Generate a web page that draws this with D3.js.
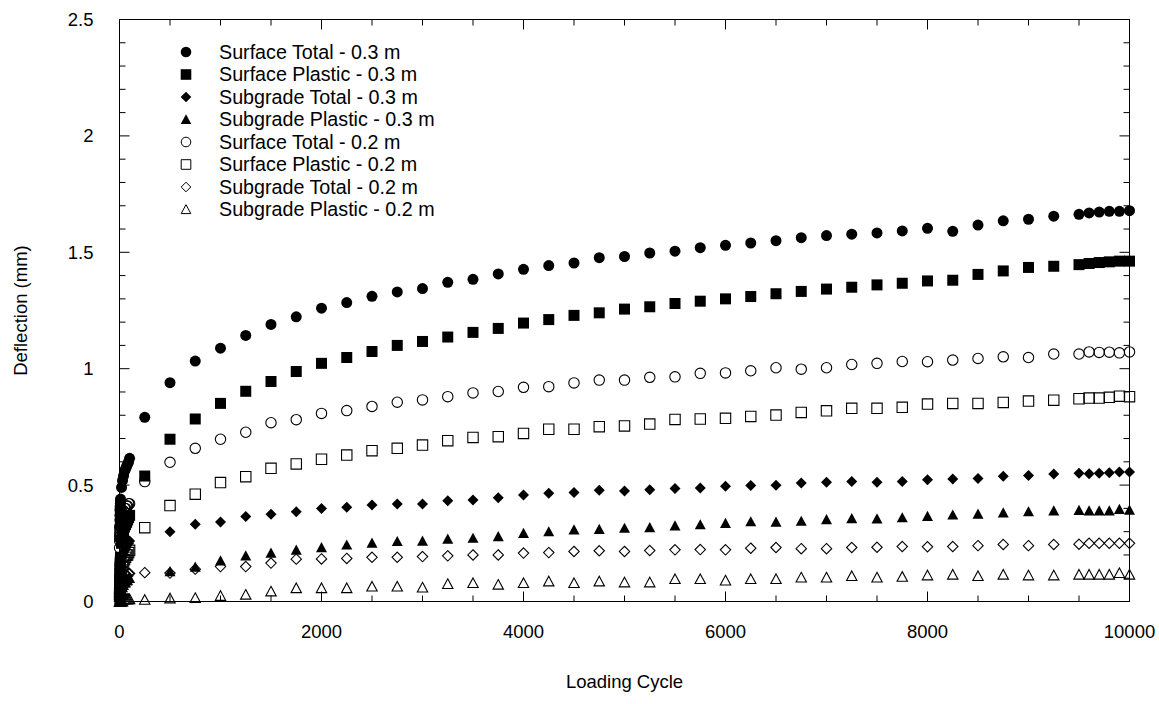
<!DOCTYPE html>
<html>
<head>
<meta charset="utf-8">
<script src="https://cdn.jsdelivr.net/npm/d3@7"></script>
<style>
  body { margin: 0; background: #fff; }
  text { font-family: Arial, "Liberation Sans", sans-serif; fill: #000; }
</style>
</head>
<body>
<div id="chart"></div>
<script>
// Loading cycles (x values)
var cycles = [1, 2, 3, 4, 5, 6, 7, 8, 9, 10, 20, 30, 40, 50, 60, 70, 80, 90, 100,
  250, 500, 750, 1000, 1250, 1500, 1750, 2000, 2250, 2500, 2750, 3000, 3250, 3500, 3750,
  4000, 4250, 4500, 4750, 5000, 5250, 5500, 5750, 6000, 6250, 6500, 6750, 7000, 7250,
  7500, 7750, 8000, 8250, 8500, 8750, 9000, 9250, 9500, 9600, 9700, 9800, 9900, 10000];

// Deflection values (mm), one array per series
var surfTot03 = [0.27, 0.32, 0.35, 0.37, 0.39, 0.40, 0.41, 0.42, 0.43, 0.44, 0.49, 0.52, 0.54, 0.56, 0.57, 0.58, 0.59, 0.60, 0.615,
  0.791, 0.940, 1.033, 1.088, 1.143, 1.190, 1.223, 1.260, 1.284, 1.311, 1.330, 1.344, 1.371, 1.384, 1.407,
  1.427, 1.443, 1.454, 1.477, 1.482, 1.497, 1.505, 1.520, 1.530, 1.540, 1.550, 1.563, 1.572, 1.578,
  1.583, 1.592, 1.603, 1.590, 1.617, 1.635, 1.642, 1.655, 1.663, 1.669, 1.673, 1.676, 1.676, 1.679];
var surfPl03 = [0.03, 0.07, 0.10, 0.12, 0.14, 0.15, 0.16, 0.17, 0.18, 0.19, 0.25, 0.28, 0.30, 0.32, 0.33, 0.34, 0.35, 0.36, 0.37,
  0.539, 0.697, 0.784, 0.851, 0.903, 0.945, 0.988, 1.023, 1.048, 1.074, 1.100, 1.117, 1.136, 1.156, 1.173,
  1.196, 1.211, 1.229, 1.240, 1.256, 1.266, 1.280, 1.290, 1.300, 1.310, 1.322, 1.332, 1.342, 1.350,
  1.360, 1.367, 1.377, 1.380, 1.405, 1.420, 1.435, 1.440, 1.447, 1.452, 1.456, 1.459, 1.462, 1.462];
var subTot03 = [0.02, 0.05, 0.07, 0.08, 0.09, 0.10, 0.11, 0.12, 0.12, 0.13, 0.17, 0.19, 0.21, 0.22, 0.23, 0.24, 0.25, 0.25, 0.26,
  null, 0.300, 0.332, 0.342, 0.365, 0.375, 0.385, 0.399, 0.405, 0.415, 0.419, 0.419, 0.433, 0.436, 0.446,
  0.458, 0.465, 0.468, 0.478, 0.475, 0.480, 0.485, 0.488, 0.495, 0.498, 0.499, 0.509, 0.512, 0.515,
  0.512, 0.515, 0.523, 0.526, 0.528, 0.538, 0.541, 0.548, 0.551, 0.549, 0.551, 0.553, 0.556, 0.556];
var subPl03 = [0.00, 0.01, 0.01, 0.02, 0.02, 0.02, 0.03, 0.03, 0.03, 0.03, 0.05, 0.06, 0.07, 0.08, 0.08, 0.09, 0.09, 0.10, 0.10,
  null, 0.129, 0.148, 0.175, 0.196, 0.208, 0.221, 0.232, 0.243, 0.251, 0.258, 0.260, 0.268, 0.272, 0.279,
  0.293, 0.300, 0.308, 0.310, 0.315, 0.318, 0.325, 0.330, 0.336, 0.343, 0.341, 0.345, 0.352, 0.356,
  0.355, 0.360, 0.366, 0.372, 0.376, 0.381, 0.386, 0.390, 0.392, 0.390, 0.390, 0.390, 0.396, 0.393];
var surfTot02 = [0.23, 0.26, 0.28, 0.29, 0.30, 0.31, 0.32, 0.32, 0.33, 0.33, 0.36, 0.38, 0.39, 0.40, 0.40, 0.41, 0.41, 0.42, 0.42,
  0.515, 0.598, 0.658, 0.697, 0.727, 0.768, 0.781, 0.808, 0.820, 0.838, 0.856, 0.866, 0.880, 0.896, 0.902,
  0.920, 0.923, 0.939, 0.951, 0.951, 0.963, 0.965, 0.980, 0.982, 0.991, 1.004, 0.998, 1.004, 1.018,
  1.023, 1.031, 1.030, 1.037, 1.044, 1.051, 1.048, 1.063, 1.063, 1.072, 1.070, 1.071, 1.068, 1.072];
var surfPl02 = [0.02, 0.04, 0.05, 0.06, 0.07, 0.08, 0.08, 0.09, 0.09, 0.10, 0.13, 0.15, 0.17, 0.18, 0.19, 0.20, 0.20, 0.21, 0.22,
  0.317, 0.412, 0.461, 0.511, 0.536, 0.572, 0.591, 0.611, 0.629, 0.648, 0.658, 0.672, 0.691, 0.705, 0.708,
  0.722, 0.740, 0.740, 0.751, 0.754, 0.762, 0.782, 0.784, 0.787, 0.795, 0.801, 0.812, 0.819, 0.830,
  0.830, 0.834, 0.848, 0.851, 0.851, 0.855, 0.861, 0.865, 0.871, 0.874, 0.874, 0.877, 0.882, 0.880];
var subTot02 = [0.01, 0.02, 0.03, 0.03, 0.04, 0.04, 0.05, 0.05, 0.05, 0.06, 0.07, 0.08, 0.09, 0.10, 0.10, 0.11, 0.11, 0.12, 0.12,
  0.124, 0.122, 0.139, 0.150, 0.150, 0.165, 0.182, 0.183, 0.185, 0.190, 0.190, 0.193, 0.196, 0.200, 0.200,
  0.208, 0.210, 0.215, 0.218, 0.215, 0.219, 0.222, 0.223, 0.222, 0.229, 0.232, 0.227, 0.227, 0.232,
  0.233, 0.236, 0.235, 0.236, 0.240, 0.245, 0.240, 0.245, 0.246, 0.250, 0.250, 0.250, 0.250, 0.250];
var subPl02 = [0.00, 0.00, 0.00, 0.00, 0.00, 0.00, 0.00, 0.00, 0.00, 0.00, 0.00, 0.00, 0.01, 0.01, 0.01, 0.01, 0.01, 0.01, 0.01,
  0.007, 0.013, 0.015, 0.024, 0.029, 0.043, 0.057, 0.057, 0.057, 0.064, 0.064, 0.060, 0.075, 0.079, 0.072,
  0.079, 0.086, 0.079, 0.086, 0.082, 0.082, 0.096, 0.096, 0.090, 0.096, 0.096, 0.103, 0.103, 0.109,
  0.103, 0.106, 0.112, 0.115, 0.109, 0.115, 0.112, 0.112, 0.115, 0.115, 0.115, 0.115, 0.122, 0.115];

var seriesNames = ["Surface Total - 0.3 m", "Surface Plastic - 0.3 m", "Subgrade Total - 0.3 m",
  "Subgrade Plastic - 0.3 m", "Surface Total - 0.2 m", "Surface Plastic - 0.2 m",
  "Subgrade Total - 0.2 m", "Subgrade Plastic - 0.2 m"];
var seriesValues = [surfTot03, surfPl03, subTot03, subPl03, surfTot02, surfPl02, subTot02, subPl02];
var seriesShapes = ["circle", "square", "diamond", "triangle", "circle", "square", "diamond", "triangle"];
var seriesFilled = [true, true, true, true, false, false, false, false];

var yTickLabels = [0, 0.5, 1, 1.5, 2, 2.5];
var xTickLabels = [0, 2000, 4000, 6000, 8000, 10000];

//SVG size and margins
var svgWidth = 1159;
var svgHeight = 704;
var margin = { top: 19.5, right: 29.5, bottom: 102.5, left: 119.5 };
var width = svgWidth - margin.left - margin.right;
var height = svgHeight - margin.top - margin.bottom;

var svg = d3.select("#chart")
  .append("svg")
  .attr("width", svgWidth)
  .attr("height", svgHeight);

var chartGroup = svg.append("g")
  .attr("transform", `translate(${margin.left}, ${margin.top})`);

var xScale = d3.scaleLinear().domain([0, 10000]).range([0, width]);
var yScale = d3.scaleLinear().domain([0, 2.5]).range([height, 0]);

// marker shapes, r = half size
function markerPath(shape, r) {
  var p = d3.path();
  if (shape === "circle") {
    p.arc(0, 0, r, 0, 2 * Math.PI);
  } else if (shape === "square") {
    p.rect(-r, -r, 2 * r, 2 * r);
  } else if (shape === "diamond") {
    p.moveTo(0, -r); p.lineTo(r, 0); p.lineTo(0, r); p.lineTo(-r, 0); p.closePath();
  } else {
    p.moveTo(0, -r); p.lineTo(r, r * 0.85); p.lineTo(-r, r * 0.85); p.closePath();
  }
  return p.toString();
}

// Tick marks on all four sides, pointing inward
var yMinor = d3.range(0, 26).map(d => d / 10);
var xMinor = d3.range(0, 21).map(d => d * 500);

function addTicks(sel, vals, isMajor, axis) {
  sel.selectAll(null)
    .data(vals)
    .enter()
    .append("line")
    .each(function(d) {
      var len = isMajor(d) ? 10 : 6;
      var el = d3.select(this);
      if (axis === "left") el.attr("x1", 0).attr("x2", len).attr("y1", yScale(d)).attr("y2", yScale(d));
      if (axis === "right") el.attr("x1", width).attr("x2", width - len).attr("y1", yScale(d)).attr("y2", yScale(d));
      if (axis === "bottom") el.attr("x1", xScale(d)).attr("x2", xScale(d)).attr("y1", height).attr("y2", height - len);
      if (axis === "top") el.attr("x1", xScale(d)).attr("x2", xScale(d)).attr("y1", 0).attr("y2", len);
    })
    .attr("stroke", "#000")
    .attr("stroke-width", 1);
}

var ticks = chartGroup.append("g");
var yMaj = d => Math.abs(d * 2 - Math.round(d * 2)) < 1e-6;
var xMaj = d => d % 2000 === 0;
addTicks(ticks, yMinor, yMaj, "left");
addTicks(ticks, yMinor, yMaj, "right");
addTicks(ticks, xMinor, xMaj, "bottom");
addTicks(ticks, xMinor, xMaj, "top");

// Frame
chartGroup.append("rect")
  .attr("x", 0).attr("y", 0)
  .attr("width", width).attr("height", height)
  .attr("fill", "none")
  .attr("stroke", "#000")
  .attr("stroke-width", 1);

// Tick labels
chartGroup.append("g").selectAll("text")
  .data(yTickLabels)
  .enter()
  .append("text")
  .attr("x", -26)
  .attr("y", d => yScale(d))
  .attr("dy", "0.35em")
  .attr("text-anchor", "end")
  .attr("font-size", "18.5px")
  .text(d => d);

chartGroup.append("g").selectAll("text")
  .data(xTickLabels)
  .enter()
  .append("text")
  .attr("x", d => xScale(d))
  .attr("y", height + 36)
  .attr("text-anchor", "middle")
  .attr("font-size", "18.5px")
  .text(d => d);

// Axis titles
svg.append("text")
  .attr("transform", `translate(27, ${margin.top + height / 2}) rotate(-90)`)
  .attr("text-anchor", "middle")
  .attr("font-size", "18.5px")
  .text("Deflection (mm)");

svg.append("text")
  .attr("x", margin.left + width / 2)
  .attr("y", 688)
  .attr("text-anchor", "middle")
  .attr("font-size", "18.5px")
  .text("Loading Cycle");

// Points
seriesValues.forEach(function(vals, i) {
  var pts = cycles.map((c, j) => ({ x: c, y: vals[j] })).filter(d => d.y !== null);
  chartGroup.append("g").selectAll("path")
    .data(pts)
    .enter()
    .append("path")
    .attr("transform", d => `translate(${xScale(d.x)}, ${yScale(d.y)})`)
    .attr("d", markerPath(seriesShapes[i], seriesFilled[i] ? 5.5 : 5.2))
    .attr("fill", seriesFilled[i] ? "#000" : "none")
    .attr("stroke", "#000")
    .attr("stroke-width", seriesFilled[i] ? 0 : 1.1);
});

// Legend
var legend = svg.append("g").attr("transform", "translate(186, 52)");
seriesNames.forEach(function(name, i) {
  var row = legend.append("g").attr("transform", `translate(0, ${i * 22.5})`);
  row.append("path")
    .attr("d", markerPath(seriesShapes[i], seriesFilled[i] ? 5.3 : 4.8))
    .attr("fill", seriesFilled[i] ? "#000" : "none")
    .attr("stroke", "#000")
    .attr("stroke-width", seriesFilled[i] ? 0 : 1);
  row.append("text")
    .attr("x", 33)
    .attr("y", 0)
    .attr("dy", "0.35em")
    .attr("font-size", "19.7px")
    .text(name);
});
</script>
</body>
</html>
